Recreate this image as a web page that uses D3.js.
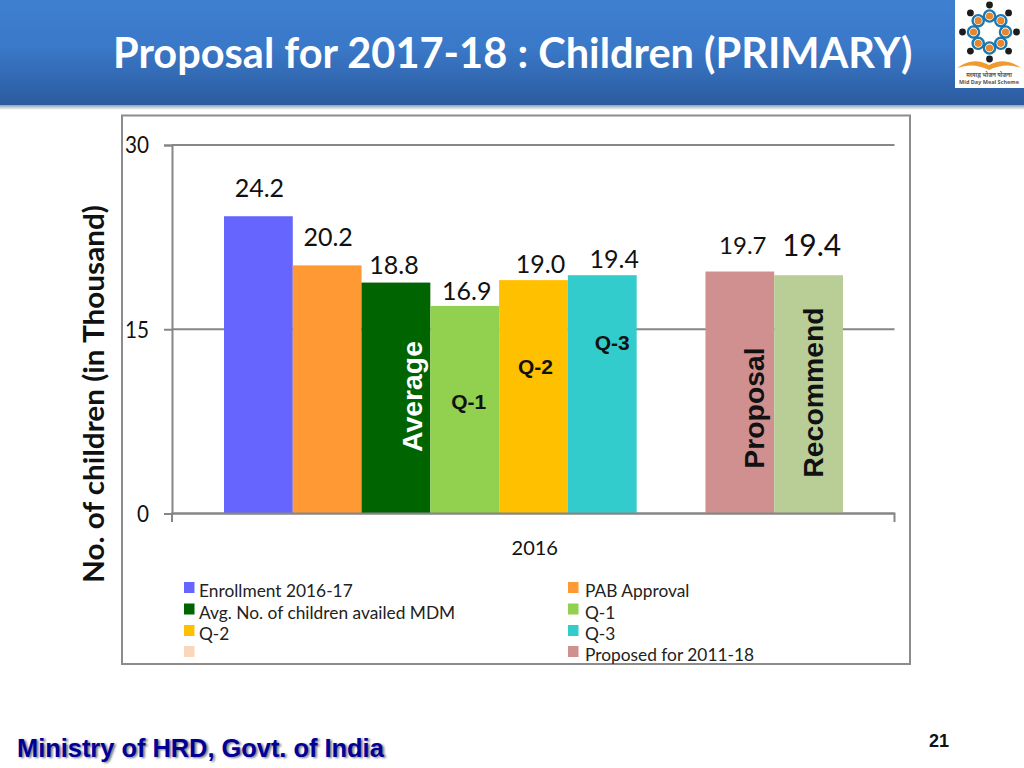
<!DOCTYPE html>
<html><head><meta charset="utf-8">
<script src="https://cdn.jsdelivr.net/npm/d3@7"></script>
<style>html,body{margin:0;padding:0;background:#fff}svg{display:block}</style>
</head><body><svg id="c" width="1024" height="768"></svg>
<script>
const seriesNames=["Enrollment 2016-17","PAB Approval","Avg. No. of children availed MDM","Q-1","Q-2","Q-3","","Proposed for 2011-18","Recommended"];
const seriesValues=[24.2,20.2,18.8,16.9,19.0,19.4,null,19.7,19.4];
const seriesColors=["#6666ff","#ff9933","#006400","#92d050","#ffc000","#33cccc","#fad7ba","#d09090","#b9cd96"];
const yTicks=[0,15,30];
const category=["2016"];
const yTitle="No. of children (in Thousand)";
const inLabels=["","","Average","Q-1","Q-2","Q-3","","Proposal","Recommend"];
// label placement, separate from the data
const valueNudge=[[1,-19],[1,-19],[-2,-9],[2,-6],[7,-7],[12,-7],[0,0],[3,-18],[3,-19]];
const valueSize=[25,25,25,25,25,25,0,24,30];
const inY=[0,0,396.5,402,367,343,0,408,392.5];
const inDx=[0,0,16,4,2,10,0,14,4];
const inFill=["","","#ffffff","#111","#111","#111","","#111","#111"];

const W=1024,H=768;
const svg=d3.select("#c");
const defs=svg.append("defs");
const g1=defs.append("linearGradient").attr("id","hdr").attr("x1",0).attr("y1",0).attr("x2",0).attr("y2",1);
[[0,"#3e80d0"],[0.45,"#3a78c8"],[1,"#2b5b9f"]].forEach(d=>g1.append("stop").attr("offset",d[0]).attr("stop-color",d[1]));
const g2=defs.append("linearGradient").attr("id","shd").attr("x1",0).attr("y1",0).attr("x2",0).attr("y2",1);
[[0,"#8f9fb5"],[1,"#ffffff"]].forEach(d=>g2.append("stop").attr("offset",d[0]).attr("stop-color",d[1]));
const f=defs.append("filter").attr("id","blur").attr("x","-10%").attr("y","-10%").attr("width","120%").attr("height","120%");
f.append("feGaussianBlur").attr("stdDeviation",0.6);
const f2=defs.append("filter").attr("id","blur2").attr("x","-5%").attr("y","-30%").attr("width","110%").attr("height","160%");
f2.append("feGaussianBlur").attr("stdDeviation",1);

svg.append("rect").attr("width",W).attr("height",H).attr("fill","#fff");
svg.append("rect").attr("y",105).attr("width",W).attr("height",5).attr("fill","url(#shd)");
svg.append("rect").attr("width",W).attr("height",105).attr("fill","url(#hdr)");

const CAL="Lato, Carlito, sans-serif", ARI="'Liberation Sans', Arial, sans-serif";
function condense(sel,k){sel.each(function(){const l=this.getComputedTextLength();if(l>0){this.setAttribute("textLength",l*k);this.setAttribute("lengthAdjust","spacingAndGlyphs");}});return sel;}

condense(svg.append("text").attr("x",113).attr("y",68).attr("font-family",CAL).attr("font-weight",700)
 .attr("font-size",42).attr("fill","#fff").text("Proposal for 2017-18 : Children (PRIMARY)"),0.989);

// logo
const logo=svg.append("g");
logo.append("rect").attr("x",955).attr("y",0).attr("width",69).attr("height",88).attr("fill","#fff");
const art=logo.append("g").attr("filter","url(#blur)");
const lc=[989.5,32];
d3.range(8).forEach(i=>{
  const a=i*Math.PI/4-Math.PI/2;
  art.append("circle").attr("cx",lc[0]+27*Math.cos(a)).attr("cy",lc[1]+27*Math.sin(a)).attr("r",3.4).attr("fill","#1a1a1a");
  art.append("circle").attr("cx",lc[0]+16*Math.cos(a)).attr("cy",lc[1]+16*Math.sin(a)).attr("r",5.6).attr("fill","none").attr("stroke","#1a78b0").attr("stroke-width",2.4);
  art.append("circle").attr("cx",lc[0]+16*Math.cos(a)).attr("cy",lc[1]+16*Math.sin(a)).attr("r",3.6).attr("fill","#e8872a");
});
art.append("path").attr("d","M957 68 Q973 56 989 65 Q1005 56 1021 68 Q1005 62 989 70 Q973 62 957 68Z").attr("fill","#ef9a2e");
logo.append("text").attr("x",989).attr("y",77).attr("text-anchor","middle").attr("font-family","'Noto Sans',sans-serif").attr("font-size",5.5).attr("font-weight",700).attr("fill","#555").text("मध्याह्न भोजन योजना");
logo.append("text").attr("x",989).attr("y",84).attr("text-anchor","middle").attr("font-family","'Noto Sans',sans-serif").attr("font-size",5.5).attr("font-weight",700).attr("fill","#555").text("Mid Day Meal Scheme");

// y axis title (outside the frame)
const tt=svg.append("text").attr("transform","translate(104,394) rotate(-90)").attr("text-anchor","middle")
 .attr("font-family",CAL).attr("font-weight",700).attr("font-size",29).attr("fill","#111").text(yTitle);
tt.attr("textLength",378).attr("lengthAdjust","spacingAndGlyphs");

// frame
svg.append("rect").attr("x",122).attr("y",115.5).attr("width",788).attr("height",548.5).attr("fill","#fff").attr("stroke","#8c8c8c").attr("stroke-width",2);

const y=d3.scaleLinear().domain([0,30]).range([513.5,145]);
const x0=d3.scaleBand().domain(category).range([172,894.5]);
const x1=d3.scaleBand().domain(d3.range(seriesNames.length)).range([224,843]);
const AX="#868686";

// y axis & gridlines
const yAxis=svg.append("g").attr("transform","translate(172,0)").call(d3.axisLeft(y).tickValues(yTicks).tickSize(8).tickPadding(15));
yAxis.selectAll("path,line").attr("stroke",AX).attr("stroke-width",2);
yAxis.selectAll("text").attr("font-family",CAL).attr("font-size",22.5).attr("fill","#111").attr("dy","0.35em");
condense(yAxis.selectAll("text"),0.92);
svg.append("g").selectAll("line").data(yTicks).join("line").attr("x1",172).attr("x2",894.5)
 .attr("y1",d=>y(d)).attr("y2",d=>y(d)).attr("stroke",AX).attr("stroke-width",2);

// bars
const vals=seriesValues.map((v,i)=>({v,i})).filter(d=>d.v!=null);
svg.append("g").selectAll("rect").data(vals).join("rect")
 .attr("x",d=>x1(d.i)).attr("width",x1.bandwidth()).attr("y",d=>y(d.v)).attr("height",d=>y(0)-y(d.v))
 .attr("fill",d=>seriesColors[d.i]);

// x axis
const xAxis=svg.append("g").attr("transform","translate(0,513.5)").call(d3.axisBottom(x0).tickSize(0).tickPadding(27));
xAxis.select("path").attr("stroke",AX).attr("stroke-width",2).attr("d","M172,8.5V0H894.5V8.5");
xAxis.selectAll("text").attr("font-family",CAL).attr("font-size",20).attr("fill","#111").attr("dx",1.5);

// value labels
svg.append("g").selectAll("text").data(vals).join("text")
 .attr("x",d=>x1(d.i)+x1.bandwidth()/2+valueNudge[d.i][0]).attr("y",d=>y(d.v)+valueNudge[d.i][1])
 .attr("text-anchor","middle").attr("font-family",CAL).attr("font-size",d=>valueSize[d.i]).attr("fill","#111")
 .text(d=>d.v.toFixed(1));

// in-bar labels
vals.filter(d=>inLabels[d.i]).forEach(d=>{
  const long=inLabels[d.i].length>3;
  const cx=x1(d.i)+x1.bandwidth()/2+inDx[d.i], cy=inY[d.i];
  const t=svg.append("text").attr("font-family",ARI).attr("font-weight",700).attr("fill",inFill[d.i]).attr("text-anchor","middle").text(inLabels[d.i]);
  if(long) t.attr("font-size",28.4).attr("transform",`translate(${cx+10},${cy}) rotate(-90)`);
  else t.attr("font-size",21).attr("x",cx).attr("y",cy+7);
});

// legend
const legendX=[184,568], legendTextX=[199,585], legendY=[591,612.5,634,655];
const legend=seriesNames.slice(0,8);
legend.forEach((n,i)=>{
  const col=i%2,row=Math.floor(i/2);
  svg.append("rect").attr("x",legendX[col]).attr("y",legendY[row]-9).attr("width",10.5).attr("height",11).attr("fill",seriesColors[i]);
  condense(svg.append("text").attr("x",legendTextX[col]).attr("y",legendY[row]+6).attr("font-family",CAL).attr("font-size",17.5).attr("fill","#222").text(n),0.99);
});

// footer
const ft="Ministry of HRD, Govt. of India";
svg.append("text").attr("x",19).attr("y",758).attr("font-family",ARI).attr("font-weight",700).attr("font-size",25.4).attr("fill","#778").attr("filter","url(#blur2)").text(ft);
svg.append("text").attr("x",17).attr("y",756.5).attr("font-family",ARI).attr("font-weight",700).attr("font-size",25.4).attr("fill","#000099").text(ft);
svg.append("text").attr("x",939).attr("y",747).attr("text-anchor","middle").attr("font-family",ARI).attr("font-weight",700).attr("font-size",18).attr("fill","#111").text("21");
</script></body></html>
